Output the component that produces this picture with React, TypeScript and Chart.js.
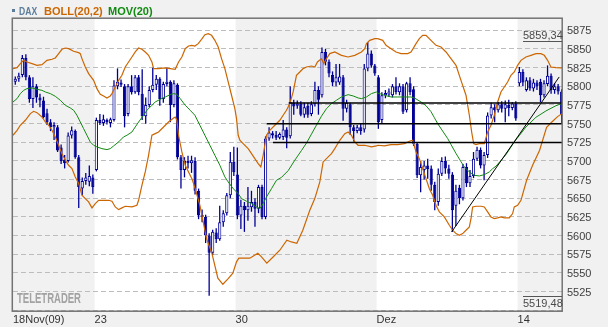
import React, { useEffect, useRef } from 'react';
import { Chart, registerables } from 'chart.js';

Chart.register(...registerables);

// Time axis: bar index (8 bars per trading day). Day d starts at 8*d (Nov 18 = day 0).
const firstBar = 1;
const xMin = 0.85;
const xMax = 156.6;
const xTickPos = [0.85, 24, 64, 104, 144];
const xTickLabels = ['18Nov(09)', '23', '30', 'Dez', '14'];
const whiteWeeks = [[24, 64], [104, 144]];

const opens = [5806,5810,5815,5838,5812,5783,5800,5785,5781,5764,
 5752,5745,5745,5718,5702,5700,5734,5740,5705,5663,
 5673,5672,5678,5688,5755,5751,5755,5751,5755,5800,
 5805,5800,5763,5800,5792,5812,5790,5760,5775,5795,
 5802,5810,5783,5803,5806,5775,5802,5705,5688,5700,
 5697,5700,5660,5628,5625,5600,5577,5604,5595,5618,
 5630,5654,5699,5682,5627,5640,5634,5638,5645,5636,
 5665,5625,5730,5737,5735,5731,5732,5742,5733,5778,
 5774,5777,5762,5774,5763,5776,5795,5788,5846,5833,
 5815,5805,5805,5812,5770,5776,5745,5740,5745,5742,
 5824,5844,5828,5812,5755,5788,5789,5788,5800,5792,
 5800,5768,5804,5796,5723,5681,5688,5694,5690,5668,
 5645,5683,5700,5690,5682,5640,5664,5650,5692,5670,
 5680,5703,5715,5694,5708,5761,5772,5768,5776,5770,
 5775,5771,5777,5804,5819,5795,5808,5797,5805,5806,
 5788,5803,5814,5795,5800,5793];

const highs = [5813,5818,5842,5843,5815,5812,5803,5790,5786,5770,
 5756,5752,5748,5722,5708,5738,5746,5742,5708,5678,
 5684,5694,5682,5758,5763,5762,5757,5758,5808,5824,
 5809,5803,5803,5815,5815,5815,5823,5785,5800,5825,
 5815,5812,5806,5825,5808,5808,5804,5708,5705,5707,
 5707,5705,5663,5635,5628,5603,5608,5610,5640,5634,
 5657,5712,5719,5718,5648,5645,5665,5660,5650,5668,
 5668,5733,5745,5740,5740,5738,5755,5745,5800,5782,
 5781,5780,5778,5778,5780,5806,5800,5852,5850,5836,
 5820,5830,5830,5815,5782,5778,5748,5748,5750,5830,
 5859.34,5848,5830,5815,5792,5795,5797,5803,5812,5804,
 5803,5806,5812,5800,5725,5700,5700,5703,5694,5672,
 5690,5705,5706,5695,5685,5668,5668,5696,5697,5688,
 5712,5719,5718,5712,5765,5778,5776,5779,5780,5781,
 5782,5779,5780,5826,5823,5812,5812,5810,5808,5810,
 5808,5828,5817,5804,5803,5796];

const lows = [5802,5806,5812,5808,5778,5771,5778,5772,5757,5748,
 5740,5728,5712,5696,5690,5698,5730,5703,5637,5654,
 5668,5666,5656,5686,5748,5747,5749,5745,5753,5796,
 5799,5745,5760,5789,5790,5788,5755,5750,5772,5792,
 5795,5774,5778,5800,5752,5772,5702,5663,5678,5690,
 5684,5655,5622,5618,5590,5519.48,5574,5590,5593,5612,
 5627,5650,5680,5622,5609,5605,5620,5632,5612,5630,
 5622,5622,5727,5730,5728,5729,5728,5717,5730,5762,
 5770,5760,5758,5758,5760,5773,5762,5785,5828,5812,
 5800,5800,5802,5754,5765,5735,5726,5737,5735,5738,
 5820,5825,5814,5743,5750,5784,5786,5785,5789,5788,
 5763,5765,5788,5720,5677,5658,5675,5676,5660,5634,
 5640,5680,5683,5676,5605,5613,5642,5647,5665,5665,
 5677,5700,5690,5674,5704,5757,5752,5765,5765,5752,
 5760,5768,5754,5800,5800,5793,5794,5793,5795,5779,
 5785,5800,5790,5790,5789,5751];

const closes = [5810,5814,5838,5812,5783,5800,5785,5781,5759,5752,
 5745,5748,5714,5700,5697,5734,5741,5705,5665,5673,
 5678,5680,5665,5755,5751,5756,5752,5756,5801,5806,
 5802,5760,5800,5792,5812,5792,5760,5775,5795,5802,
 5810,5783,5803,5806,5775,5804,5705,5688,5700,5697,
 5701,5660,5627,5625,5600,5577,5605,5595,5618,5630,
 5654,5699,5685,5627,5640,5634,5640,5645,5636,5665,
 5625,5730,5738,5734,5731,5736,5742,5731,5779,5773,
 5777,5762,5772,5762,5776,5795,5782,5846,5833,5817,
 5805,5812,5813,5770,5778,5745,5740,5745,5740,5824,
 5844,5828,5817,5752,5788,5791,5793,5800,5792,5800,
 5766,5804,5792,5723,5681,5692,5694,5689,5668,5645,
 5683,5700,5690,5683,5634,5660,5650,5692,5670,5680,
 5703,5715,5694,5708,5761,5772,5768,5776,5770,5776,
 5771,5777,5757,5819,5805,5808,5797,5805,5800,5788,
 5804,5814,5795,5800,5793,5763];

// Bollinger upper band (20,2)
const upperX = [0.85,2.0,2.93,3.87,4.82,6.24,7.66,9.07,10.49,11.91,12.85,13.8,14.74,15.69,16.63,18.05,19.47,19.94,20.41,21.36,22.3,23.72,24.66,25.61,26.55,27.5,28.44,28.92,29.86,30.81,31.75,32.7,33.64,34.59,35.53,36.48,37.42,38.37,39.31,40.26,40.73,42.15,44.04,45.45,46.87,47.82,48.76,49.71,50.65,51.6,
 52.45,53.4,54.34,55.29,56.23,57.18,58.12,59.07,60.01,60.96,61.9,62.85,63.79,64.26,64.74,65.21,66.15,67.57,68.52,69.46,70.41,71.16,71.82,72.77,73.71,75.13,76.55,77.49,78.44,79.38,80.33,81.27,82.22,83.16,84.11,85.53,86.47,87.23,88.36,89.02,89.78,90.72,92.14,94.03,95.92,97.81,99.7,100.65,101.12,102.06,103.48,
 104.32,105.74,106.68,108.1,109.52,110.94,112.83,113.77,115.19,116.13,117.08,118.02,119.44,120.86,122.28,123.69,125.11,126.53,127.47,128.42,129.36,129.84,130.31,130.97,131.54,132.2,133.14,134.56,135.5,136.45,137.39,138.34,139.28,140.23,141.17,142.12,143.06,144.01,144.96,146.37,147.79,149.21,150.62,151.57,152.52,153.46,154.88,156.6];
const upperY = [5823.7,5825.0,5830.4,5834.8,5832.6,5830.4,5828.1,5829.0,5834.8,5836.2,5838.0,5843.8,5849.6,5851.3,5850.4,5846.9,5845.1,5843.8,5837.1,5825.9,5817.0,5808.0,5796.9,5789.3,5787.1,5784.4,5787.1,5790.2,5799.1,5808.0,5814.7,5825.9,5832.6,5839.3,5846.0,5851.3,5849.6,5846.0,5841.5,5832.6,5823.7,5823.7,5824.6,5823.7,5822.8,5832.6,5839.3,5850.4,5854.0,5854.9,
 5854.0,5857.1,5862.9,5869.2,5870.5,5868.3,5861.6,5852.7,5837.1,5823.7,5805.8,5788.0,5770.1,5756.7,5734.4,5727.7,5723.2,5716.5,5709.8,5703.1,5696.4,5692.0,5707.6,5734.4,5741.1,5747.8,5754.5,5761.2,5767.9,5776.8,5792.4,5814.7,5819.2,5823.7,5825.9,5827.2,5825.9,5832.6,5837.1,5830.4,5837.1,5843.8,5846.0,5841.5,5839.3,5841.5,5846.0,5850.4,5857.1,5861.6,5863.8,
 5863.8,5861.6,5854.9,5850.4,5846.0,5843.8,5843.8,5846.0,5857.1,5863.8,5868.3,5868.3,5861.6,5854.9,5852.7,5846.0,5837.1,5828.1,5814.7,5801.3,5788.0,5774.6,5761.2,5738.8,5723.2,5721.9,5723.2,5723.2,5738.8,5747.8,5761.2,5779.0,5792.4,5799.1,5805.8,5814.7,5819.2,5828.1,5834.8,5839.3,5841.5,5843.8,5843.8,5841.5,5834.8,5825.9,5825.0,5824.6];

// Bollinger lower band (20,2)
const lowerX = [0.85,2.0,2.93,4.35,5.77,6.71,7.66,9.07,10.02,10.96,11.91,12.85,13.8,14.74,15.69,16.63,17.58,18.52,19.47,20.41,21.36,22.3,23.25,24.19,25.14,26.55,27.97,28.92,29.86,30.81,31.75,32.7,34.59,36.0,36.48,37.42,38.37,39.31,40.26,41.2,42.15,43.57,44.98,46.4,46.87,47.34,47.82,48.76,49.71,50.65,51.6,52.54,
 53.87,54.81,55.76,57.27,58.97,60.39,61.9,63.22,64.26,64.92,68.04,70.31,71.35,72.86,74.56,76.55,78.53,79.86,81.37,83.07,85.05,86.47,87.89,88.83,89.78,91.2,92.14,93.56,94.98,95.92,96.87,97.81,98.76,100.65,102.53,103.95,
 104.32,106.21,108.1,109.99,111.88,113.3,114.24,115.19,116.13,117.08,118.02,118.97,119.91,120.86,121.8,123.22,124.64,125.58,126.53,127.47,128.42,129.36,130.31,130.78,131.25,132.2,133.62,134.56,135.5,136.45,137.39,138.34,139.28,140.23,141.65,142.59,143.06,144.01,144.96,146.56,148.26,150.25,152.23,153.65,155.35,156.6];
const lowerY = [5734.4,5741.1,5747.8,5754.5,5763.4,5766.5,5764.7,5758.9,5752.2,5747.8,5741.1,5732.2,5721.0,5709.8,5700.9,5694.2,5689.7,5678.6,5670.0,5654.0,5649.6,5645.1,5637.1,5642.9,5647.3,5647.3,5647.3,5646.0,5638.4,5634.8,5637.1,5639.3,5638.4,5640.6,5647.3,5667.4,5685.3,5707.6,5734.4,5736.6,5738.8,5745.5,5752.2,5757.6,5758.9,5754.5,5734.4,5712.1,5694.2,5685.3,5676.3,5662.9,
 5640.6,5618.3,5596.0,5576.4,5542.9,5534.8,5542.4,5549.6,5564.8,5569.7,5569.7,5576.4,5571.4,5563.0,5571.0,5580.4,5593.8,5591.5,5589.8,5607.2,5634.0,5649.6,5671.9,5698.7,5703.1,5709.8,5716.5,5727.7,5736.6,5738.8,5734.4,5725.5,5721.0,5721.0,5718.8,5720.1,
 5721.0,5720.1,5721.9,5721.9,5723.2,5726.4,5727.7,5712.1,5703.1,5689.7,5676.3,5662.9,5654.0,5640.6,5631.7,5625.0,5613.9,5607.2,5602.7,5600.5,5602.7,5607.2,5611.6,5622.8,5638.4,5639.3,5639.3,5638.4,5631.7,5625.0,5622.8,5623.7,5625.0,5623.7,5623.7,5629.5,5638.4,5640.6,5647.3,5674.1,5694.2,5714.3,5745.1,5751.8,5759.4,5763.4];

// Moving average (20)
const maX = [0.85,2.0,2.93,3.87,4.82,6.24,7.66,9.07,10.02,11.44,12.85,14.27,15.69,17.1,18.05,18.99,19.94,20.88,21.83,22.77,23.72,24.66,26.08,27.5,28.44,29.39,30.81,32.22,33.17,34.59,35.53,36.48,37.89,38.84,40.26,41.2,42.62,44.04,45.45,46.4,47.34,48.29,49.71,51.12,
 52.45,53.87,55.29,56.7,58.12,59.54,60.96,61.9,63.32,64.74,65.68,67.1,68.52,69.93,70.88,71.82,72.77,74.19,75.6,77.02,78.91,80.8,82.69,84.11,85.53,86.94,88.36,89.78,91.2,92.61,94.03,95.92,97.34,98.76,99.7,101.12,102.53,103.95,
 104.32,106.21,108.1,109.99,111.88,113.77,114.72,116.61,118.02,119.44,120.39,121.33,122.75,124.17,125.11,126.53,127.95,128.89,130.31,131.73,133.14,134.56,135.98,136.92,137.87,140.7,143.07,146.37,149.2,152.04,154.88,156.6];
const maY = [5779.0,5783.5,5790.2,5794.6,5796.9,5797.8,5796.0,5794.6,5792.4,5790.2,5786.6,5781.3,5774.6,5771.0,5767.9,5761.2,5752.2,5743.3,5734.4,5725.5,5721.0,5718.8,5716.5,5715.2,5716.5,5720.1,5725.5,5732.2,5734.4,5738.8,5745.5,5752.2,5761.2,5767.9,5774.6,5779.0,5782.6,5785.7,5788.8,5790.2,5789.3,5783.5,5774.6,5767.9,
 5761.2,5747.8,5734.4,5721.0,5707.6,5694.2,5678.6,5671.9,5662.9,5656.3,5649.6,5646.0,5642.9,5638.4,5636.2,5642.9,5651.8,5662.9,5674.1,5678.0,5687.0,5701.0,5714.0,5724.0,5736.0,5748.0,5760.0,5770.0,5776.8,5781.3,5785.7,5788.8,5787.1,5784.4,5783.5,5785.7,5790.2,5792.4,
 5791.0,5788.0,5785.7,5785.7,5785.7,5785.7,5784.4,5779.0,5774.0,5766.0,5758.0,5750.0,5740.0,5730.0,5722.0,5710.0,5699.0,5692.0,5685.3,5680.8,5679.9,5681.7,5685.3,5689.7,5693.0,5708.5,5725.5,5745.5,5758.5,5767.0,5774.0,5777.0];

// Drawn support / resistance levels and trend line
const levelValues = [5777.6, 5750.0, 5724.8];
const levelStarts = [79.1, 72.8, 74.6];
const trendX = [125.3, 155.8];
const trendY = [5605.0, 5812.5];

const maxLabel = '5859,34';
const minLabel = '5519,48';

const NAVY = '#000096';
const ORANGE = '#cc6600';
const GREEN = '#128a12';
const FONT = "'Liberation Sans', Arial, sans-serif";

const pts = (xa: number[], ya: number[]) => xa.map((x, i) => ({ x, y: ya[i] }));

const shadePlugin = {
  id: 'shade',
  beforeDraw(chart: any) {
    const { ctx, chartArea: a, scales } = chart;
    const x = scales.x;
    ctx.save();
    ctx.fillStyle = '#ffffff';
    whiteWeeks.forEach(([s, e]) => {
      const x0 = x.getPixelForValue(s);
      const x1 = x.getPixelForValue(e);
      ctx.fillRect(x0, a.top, x1 - x0, a.bottom - a.top);
    });
    ctx.restore();
  },
};

const framePlugin = {
  id: 'frame',
  afterDraw(chart: any) {
    const { ctx, chartArea: a } = chart;
    ctx.save();
    ctx.strokeStyle = '#737373';
    ctx.lineWidth = 1.5;
    ctx.strokeRect(a.left - 0.7, a.top + 0.2, a.right - a.left + 0.9, a.bottom - a.top);
    ctx.restore();
  },
};

export default function App() {
  const ref = useRef<HTMLCanvasElement>(null);

  useEffect(() => {
    if (!ref.current) return;
    const xs = closes.map((_, i) => firstBar + i + 0.5);
    const wickData = xs.map((x, i) => ({ x, y: [lows[i], highs[i]] }));
    const bodyData = xs.map((x, i) => ({ x, y: [opens[i], closes[i]] }));
    const bodyFill = closes.map((c, i) => (c >= opens[i] ? '#ffffff' : NAVY));

    const levelSets = levelValues.map((v, i) => ({
      type: 'line' as const,
      data: [{ x: levelStarts[i], y: v }, { x: xMax, y: v }],
      borderColor: '#000000',
      borderWidth: 1.5,
      pointRadius: 0,
      tension: 0,
      order: 1,
    }));

    const chart = new Chart(ref.current, {
      type: 'bar',
      data: {
        datasets: [
          ...levelSets,
          { type: 'line', data: pts(trendX, trendY), borderColor: '#000000', borderWidth: 1, pointRadius: 0, tension: 0, order: 1 },
          { type: 'line', data: pts(upperX, upperY), borderColor: ORANGE, borderWidth: 1.2, pointRadius: 0, tension: 0, order: 2 },
          { type: 'line', data: pts(lowerX, lowerY), borderColor: ORANGE, borderWidth: 1.2, pointRadius: 0, tension: 0, order: 2 },
          { type: 'line', data: pts(maX, maY), borderColor: GREEN, borderWidth: 1, pointRadius: 0, tension: 0, order: 2 },
          {
            type: 'bar', data: bodyData as any, backgroundColor: bodyFill, borderColor: NAVY, borderWidth: 1,
            borderSkipped: false, barThickness: 3.2, grouped: false, inflateAmount: 0, order: 5, clip: 0 as any,
          },
          {
            type: 'bar', data: wickData as any, backgroundColor: NAVY, borderWidth: 0,
            barThickness: 1.3, grouped: false, inflateAmount: 0, order: 6, clip: 0 as any,
          },
        ] as any,
      },
      options: {
        responsive: false,
        animation: false,
        devicePixelRatio: 1,
        layout: { padding: { left: 13, top: 18, right: 0, bottom: 0 } },
        plugins: { legend: { display: false }, tooltip: { enabled: false } },
        scales: {
          x: {
            type: 'linear', min: xMin, max: xMax, offset: false, position: 'bottom',
            grid: { display: false, drawTicks: false },
            border: { display: false },
            afterBuildTicks: (s: any) => { s.ticks = xTickPos.map((v) => ({ value: v })); },
            afterFit: (s: any) => { s.height = 16; },
            ticks: {
              autoSkip: false, maxRotation: 0, minRotation: 0, align: 'start', padding: 2,
              color: '#333333', font: { family: FONT, size: 11 },
              callback: (_v: any, i: number) => xTickLabels[i],
            },
          },
          y: {
            type: 'linear', position: 'right', min: 5499, max: 5891.5,
            afterFit: (s: any) => { s.width = 46; },
            grid: { color: '#bdbdbd', lineWidth: 1, drawTicks: false, borderDash: [5, 3] },
            border: { display: false, dash: [5, 3] },
            ticks: {
              stepSize: 25, includeBounds: false, maxTicksLimit: 100, padding: 5, labelOffset: 1,
              color: '#404040', font: { family: FONT, size: 11 },
              callback: (v: any) => (v >= 5525 && v <= 5875 ? String(v) : ''),
            },
          },
        },
      } as any,
      plugins: [shadePlugin, framePlugin],
    });
    return () => chart.destroy();
  }, []);

  const txt: React.CSSProperties = { position: 'absolute', fontFamily: FONT, whiteSpace: 'nowrap' };

  return (
    <div style={{ position: 'fixed', left: 0, top: 0, width: 608, height: 327, background: '#f1f1f1', overflow: 'hidden' }}>
      <canvas ref={ref} width={608} height={327} style={{ position: 'absolute', left: 0, top: 0, width: 608, height: 327 }} />
      <div style={{ position: 'absolute', left: 12, top: 9, width: 3, height: 3, background: '#5b7c9b' }} />
      <div style={{ ...txt, left: 19, top: 4, fontSize: 11, lineHeight: '14px', fontWeight: 'bold', color: '#5b7c9b', transform: 'scaleX(0.78)', transformOrigin: 'left top' }}>DAX</div>
      <div style={{ ...txt, left: 44, top: 4, fontSize: 11, lineHeight: '14px', fontWeight: 'bold', color: ORANGE }}>BOLL(20,2)</div>
      <div style={{ ...txt, left: 108, top: 4, fontSize: 11, lineHeight: '14px', fontWeight: 'bold', color: GREEN }}>MOV(20)</div>
      <div style={{ ...txt, left: 523, top: 29, width: 39, fontSize: 11, lineHeight: '12px', color: '#4a4a4a', textAlign: 'right', borderBottom: '1px solid #555555' }}>{maxLabel}</div>
      <div style={{ ...txt, left: 523, top: 296, width: 39, fontSize: 11, lineHeight: '12px', color: '#4a4a4a', textAlign: 'right', borderTop: '1px solid #555555' }}>{minLabel}</div>
      <div style={{ ...txt, left: 17, top: 291, fontSize: 14, lineHeight: '14px', fontWeight: 'bold', color: '#a2a2a2', transform: 'scaleX(0.68)', transformOrigin: 'left top' }}>TELETRADER</div>
    </div>
  );
}
